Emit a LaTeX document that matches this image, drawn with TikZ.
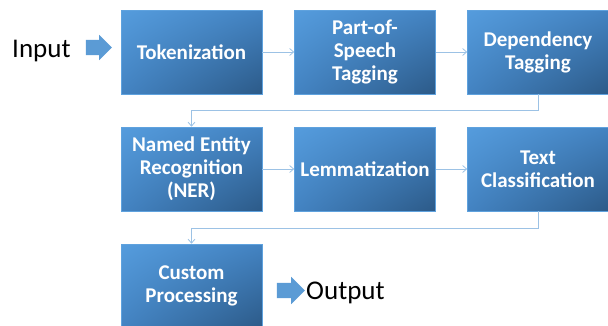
\documentclass[tikz,border=0pt]{standalone}
\usepackage{fontspec}
\setmainfont{Carlito}
\usetikzlibrary{arrows.meta,shapes.arrows,shadings}
\definecolor{boxlight}{HTML}{559CDD}
\definecolor{boxmid}{HTML}{4383C2}
\definecolor{boxdark}{HTML}{2C5A88}
\definecolor{boxedge}{HTML}{5FA2DE}
\definecolor{conn}{HTML}{9CC2E5}
\definecolor{blockarrow}{HTML}{5B9BD5}
\tikzset{
  stepbox/.style={draw=boxedge, line width=0.6pt, minimum width=141pt, minimum height=84pt,
    inner sep=0pt, align=center, text=white, font=\bfseries\fontsize{21}{23}\selectfont,
    upper left=boxlight, upper right=boxmid, lower left=boxmid, lower right=boxdark},
  conn/.style={draw=conn, line width=0.9pt, -{Straight Barb[length=4pt,width=7pt,line width=0.8pt]}},
  bigarrow/.style={single arrow, fill=blockarrow, draw=none, inner xsep=0pt, inner ysep=7.5pt,
    single arrow head extend=5pt, single arrow head indent=0pt},
  label/.style={font=\fontsize{27}{30}\selectfont, inner sep=0pt, anchor=base west}
}
\begin{document}
\begin{tikzpicture}[x=1pt,y=-1pt]
\useasboundingbox (0,0) rectangle (608,325);
\node[stepbox] (tok) at (191.5,52) {Tokenization};
\node[stepbox] (pos) at (365,52) {Part-of-\\Speech\\Tagging};
\node[stepbox] (dep) at (538,52) {Dependency\\Tagging};
\node[stepbox] (ner) at (191.5,169) {Named Entity\\Recognition\\(NER)};
\node[stepbox] (lem) at (365,169) {Lemmatization};
\node[stepbox] (txt) at (538,169) {Text\\Classification};
\node[stepbox] (cus) at (191.5,286) {Custom\\Processing};
\node[label] (in) at (12,57.5) {Input};
\node[bigarrow, minimum height=26pt] (ina) at (95,47.5) {};
\node[bigarrow, minimum height=28pt, single arrow head extend=6pt] (outa) at (287,290.5) {};
\node[label] (out) at (306,299.5) {Output};
\draw[conn] (tok.east) -- (pos.west);
\draw[conn] (pos.east) -- (dep.west);
\draw[conn] (ner.east) -- (lem.west);
\draw[conn] (lem.east) -- (txt.west);
\draw[conn] (dep.south) -- ++(0,16) -| (ner.north);
\draw[conn] (txt.south) -- ++(0,17) -| (cus.north);
\end{tikzpicture}
\end{document}
